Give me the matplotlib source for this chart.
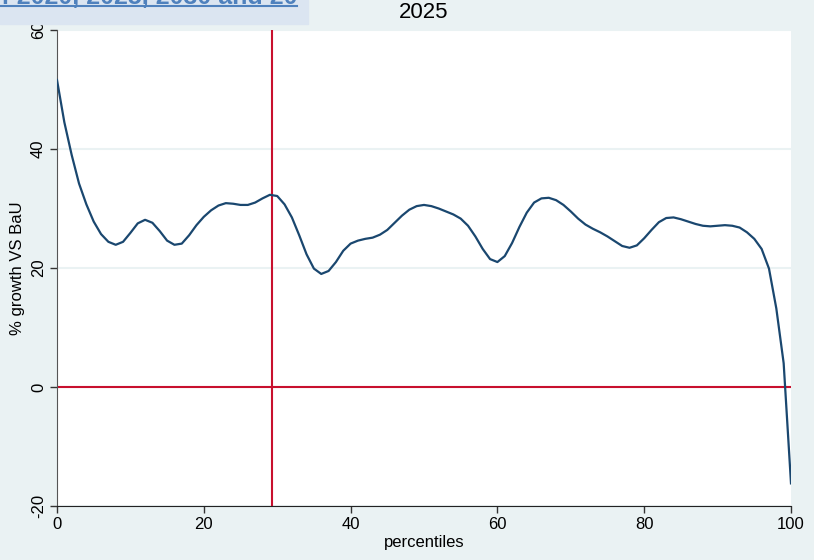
import numpy as np
import matplotlib
matplotlib.use("Agg")
import matplotlib.pyplot as plt
from matplotlib.lines import Line2D
from matplotlib.patches import Rectangle

# growth vs BaU by income percentile, 2025
percentiles = np.arange(0, 101)
growth = [
    51.6, 44.5, 39.0, 34.2, 30.7, 27.8, 25.7, 24.4, 23.9, 24.4,
    25.9, 27.5, 28.1, 27.6, 26.2, 24.6, 23.9, 24.1, 25.5, 27.2,
    28.6, 29.7, 30.5, 30.9, 30.8, 30.6, 30.6, 31.0, 31.7, 32.3,
    32.1, 30.7, 28.5, 25.5, 22.3, 19.9, 19.0, 19.5, 21.0, 22.9,
    24.1, 24.6, 24.9, 25.1, 25.6, 26.4, 27.6, 28.8, 29.8, 30.4,
    30.6, 30.4, 30.0, 29.5, 29.0, 28.3, 27.1, 25.3, 23.2, 21.5,
    21.0, 22.0, 24.2, 26.9, 29.3, 31.0, 31.7, 31.8, 31.4, 30.6,
    29.5, 28.3, 27.3, 26.6, 26.0, 25.3, 24.5, 23.7, 23.4, 23.8,
    25.0, 26.4, 27.7, 28.4, 28.5, 28.2, 27.8, 27.4, 27.1, 27.0,
    27.1, 27.2, 27.1, 26.8, 26.0, 24.9, 23.2, 19.9, 13.2, 4.0,
    -16.2,
]
vline_x = 29.3
hline_y = 0
xticks = [0, 20, 40, 60, 80, 100]
yticks = [-20, 0, 20, 40, 60]
title = "2025"
banner = "of 2020, 2025, 2030 and 20"

plt.rcParams["font.family"] = ["Liberation Sans", "DejaVu Sans"]

bg = "#eaf2f3"
navy = "#1a476f"
red = "#c8102e"

fig = plt.figure(figsize=(8.14, 5.6), dpi=100, facecolor=bg)
ax = fig.add_axes([57 / 814, 1 - 506 / 560, 734 / 814, 476 / 560])
ax.set_facecolor("white")

for y in yticks:
    ax.axhline(y, color=bg, lw=1.5, zorder=1)
ax.plot(percentiles, growth, color=navy, lw=1.6, zorder=3)
ax.axvline(vline_x, color=red, lw=1.5, zorder=2)
ax.axhline(hline_y, color=red, lw=1.5, zorder=2)

ax.set_xlim(0, 100)
ax.set_ylim(-20, 60)
ax.set_xticks(xticks)
ax.set_yticks(yticks)
ax.set_yticklabels([str(v) for v in yticks], rotation=90, va="center")
ax.tick_params(labelsize=12, length=5, width=1, color="#333333", pad=3)
for s in ["top", "right"]:
    ax.spines[s].set_visible(False)
ax.spines["left"].set_color("#555555")
ax.spines["bottom"].set_color("#222222")

ax.set_xlabel("percentiles", fontsize=12, labelpad=2)
ax.set_ylabel("% growth VS BaU", fontsize=12, labelpad=4)
fig.text(424 / 814, 1 - 13 / 560, title, ha="center", va="center", fontsize=16)

# cropped banner from the slide behind the chart (sits on top of the figure)
fig.patches.append(Rectangle((0, 1 - 24 / 560), 308 / 814, 24 / 560,
                             transform=fig.transFigure, color="#dbe5f1", zorder=5))
fig.text(297 / 814, 1 - 4 / 560, banner, ha="right", va="baseline",
         fontsize=18, fontweight="bold", color="#4f81bd", zorder=6)
fig.lines.append(Line2D([0, 297 / 814], [1 - 6 / 560] * 2, transform=fig.transFigure,
                        color="#4f81bd", lw=1.5, zorder=6))

fig.savefig("out.png", dpi=100, facecolor=bg)
